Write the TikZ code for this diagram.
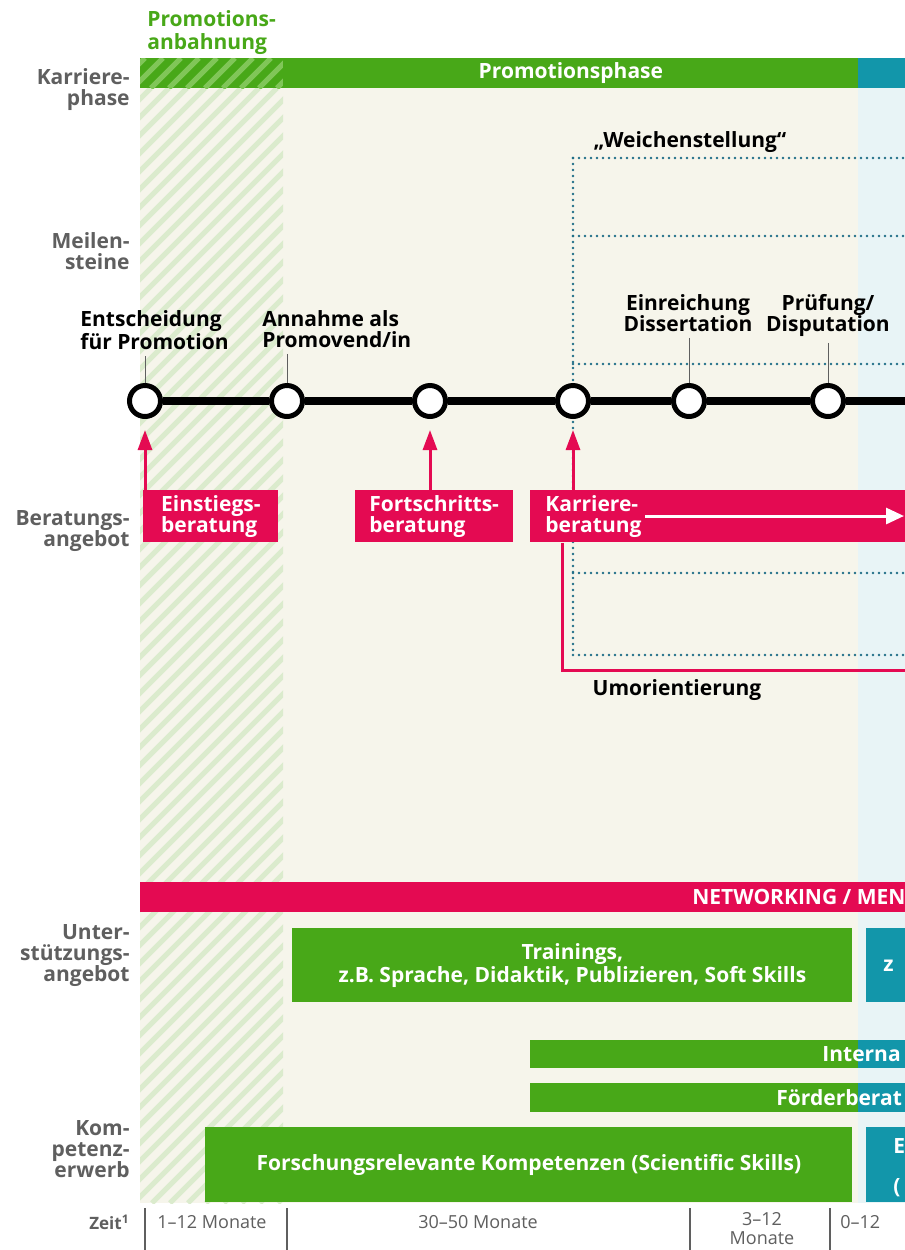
\documentclass[tikz,border=0pt]{standalone}
\usepackage{fontspec}
\setmainfont{Open Sans}
\usetikzlibrary{calc,arrows.meta}

\definecolor{dgreen}{RGB}{72,168,24}
\definecolor{lgreen}{RGB}{128,198,88}
\definecolor{hatch}{RGB}{219,235,205}
\definecolor{dteal}{RGB}{18,150,170}
\definecolor{dotteal}{RGB}{30,110,135}
\definecolor{dred}{RGB}{228,10,82}
\definecolor{beige}{RGB}{246,245,235}
\definecolor{lblue}{RGB}{232,244,246}
\definecolor{lgray}{RGB}{95,95,95}

\begin{document}
\begin{tikzpicture}[x=0.5pt,y=-0.5pt,
  every node/.style={font=\fontsize{10.5}{10.5}\selectfont\bfseries,inner sep=0pt},
  row/.style={text=lgray,align=right,anchor=north east},
  mile/.style={circle,draw=black,line width=2.5pt,fill=white,minimum size=15.5pt},
  mtext/.style={align=left,anchor=north west},
  tick/.style={draw=lgray,line width=0.5pt},
  redbox/.style={fill=dred,text=white,align=left,anchor=north west,minimum height=26pt,inner xsep=7pt},
  bar/.style={fill=dgreen,text=white,anchor=north west,minimum height=15pt},
  up/.style={dred,line width=1.5pt,-{Triangle[length=10pt,width=7pt]},shorten >=5.5pt},
  warr/.style={white,line width=1.5pt,-{Triangle[length=9pt,width=8pt]}},
  umo/.style={dred,line width=1.5pt},
  dots/.style={dotteal,line width=1.4pt,dash pattern=on 0pt off 3pt,line cap=round},
  zeit/.style={font=\fontsize{9}{9.5}\selectfont,text=lgray,align=center}]
\useasboundingbox (0,0) rectangle (905,1250);
\clip (0,0) rectangle (905,1250);
\fill[white] (0,0) rectangle (905,1250);
\fill[beige] (140,88) rectangle (858,1203);
\fill[lblue] (858,88) rectangle (910,1203);
\begin{scope}
  \clip (140,88) rectangle (283,1203);
  \foreach \s in {-1000,-982,...,300}
    \draw[hatch,line width=2.6pt] (\s,1203) -- ++(1115,-1115);
\end{scope}

\fill[dgreen] (140,58) rectangle (283,88);
\begin{scope}
  \clip (140,58) rectangle (283,88);
  \foreach \s in {97,115,...,283}
    \draw[lgreen,line width=2.6pt] (\s,88) -- ++(30,-30);
\end{scope}
\node[bar,minimum width=287.5pt] (phase) at (283,58) {Promotionsphase};
\node[bar,fill=dteal,minimum width=26pt] (post) at (858,58) {};
\node[anchor=north west,align=left,text=dgreen,font=\fontsize{10.5}{11.5}\selectfont\bfseries] (anb) at (147,10) {Promotions-\\anbahnung};

\node (weiche) at (690,142) {„Weichenstellung“};
\draw[dots] (573,158) -- (573,655);
\foreach \y in {158,236,364,573,655}
  \draw[dots] (573,\y) -- (910,\y);

\node[redbox,minimum width=67.5pt] (einst) at (143,490) {Einstiegs-\\beratung};
\node[redbox,minimum width=71pt] (fort) at (355,490) {Fortschritts-\\beratung};
\node[redbox,text width=175pt,inner xsep=7.5pt] (karr) at (530,490) {Karriere-\\beratung};
\coordinate (kstart) at (645,516);
\coordinate (kend) at (904,516);
\draw[warr] (kstart) -- (kend);
\coordinate (uend) at (910,670);
\draw[umo] ($(karr.south west)+(32,0)$) |- (uend);
\node (umor) at (677,690) {Umorientierung};

\foreach \n/\x in {1/145,2/287,3/430,4/573,5/689,6/828}
  \node[mile] (m\n) at (\x,401) {};
\coordinate (tend) at (910,401);
\draw[line width=4pt] (m1) -- (m2) -- (m3) -- (m4) -- (m5) -- (m6) -- (tend);
\draw[up] (einst.north west -| m1) -- (m1);
\draw[up] (fort.north -| m3) -- (m3);
\draw[up] (karr.north -| m4) -- (m4);

\node[mtext] (e1) at (80,310) {Entscheidung\\für Promotion};
\node[mtext] (e2) at (262,310) {Annahme als\\Promovend/in};
\node[mtext,align=center,anchor=north] (e3) at (688,294) {Einreichung\\Dissertation};
\node[mtext,align=center,anchor=north] (e4) at (828,294) {Prüfung/\\Disputation};
\draw[tick,shorten <=3pt] (e1.south -| m1) -- (m1);
\draw[tick,shorten <=3pt] (e2.south -| m2) -- (m2);
\draw[tick,shorten <=3pt] (e3.south -| m5) -- (m5);
\draw[tick,shorten <=3pt] (e4.south -| m6) -- (m6);

\node[bar,fill=dred,minimum width=385pt] (netz) at (140,882) {};
\node[anchor=west,text=white] (netzt) at (692,897) {NETWORKING / MEN};

\node[bar,minimum width=280pt,minimum height=37pt,align=center] (train) at (292,928) {Trainings,\\z.B. Sprache, Didaktik, Publizieren, Soft Skills};
\node[bar,fill=dteal,minimum width=22pt,minimum height=37pt] (train2) at (866,928) {z};

\node[bar,minimum width=164pt,minimum height=14pt] (intl) at (530,1040) {};
\node[bar,fill=dteal,minimum width=26pt,minimum height=14pt] (intl2) at (858,1040) {};
\node[anchor=west,text=white] (intlt) at (822,1054) {Interna};
\node[bar,minimum width=164pt,minimum height=14.5pt] (foerd) at (530,1083) {};
\node[bar,fill=dteal,minimum width=26pt,minimum height=14.5pt] (foerd2) at (858,1083) {};
\node[anchor=west,text=white] (foerdt) at (776,1097.5) {Förderberat};

\node[bar,minimum width=323.5pt,minimum height=37.5pt] (fsk) at (205,1127) {Forschungsrelevante Kompetenzen (Scientific Skills)};
\node[bar,fill=dteal,minimum width=22pt,minimum height=37.5pt] (fsk2) at (866,1127) {};
\node[anchor=north west,text=white,align=left] (fsk2t) at (893,1138) {E\\[9.5pt](};

\node[row] (r1) at (130,68) {Karriere-\\phase};
\node[row] (r2) at (130,232) {Meilen-\\steine};
\node[row] (r3) at (130,510) {Beratungs-\\angebot};
\node[row] (r4) at (130,924) {Unter-\\stützungs-\\angebot};
\node[row] (r5) at (130,1120) {Kom-\\petenz-\\erwerb};

\node[zeit,font=\fontsize{8.5}{8.5}\selectfont\bfseries,anchor=east] (zeit) at (130,1222) {Zeit\textsuperscript{1}};
\foreach \x in {145,287,690,830}
  \draw[tick,line width=1pt] (\x,1208) -- (\x,1250);
\node[zeit] (t1) at (212,1222) {1–12 Monate};
\node[zeit] (t2) at (478,1222) {30–50 Monate};
\node[zeit,anchor=north] (t3) at (762,1212) {3–12\\Monate};
\node[zeit,anchor=west] (t4) at (840,1222) {0–12};
\end{tikzpicture}
\end{document}
